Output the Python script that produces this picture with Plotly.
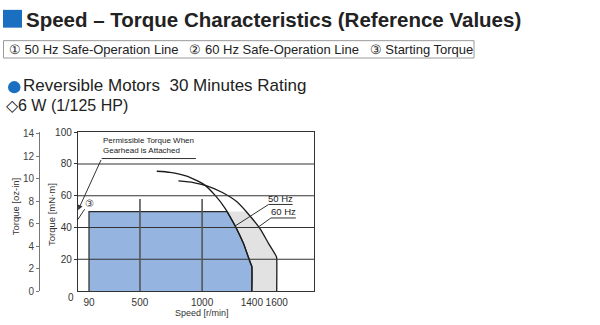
import numpy as np
import plotly.graph_objects as go

# ---------------- data ----------------
# 50 Hz safe-operation line (speed r/min, torque mN·m)
rpm_50 = [635, 742, 876, 1011, 1105, 1185, 1266, 1333, 1387, 1400, 1400]
trq_50 = [75.4, 74.7, 72.3, 67.3, 60.2, 52.1, 41.0, 29.9, 17.8, 15.5, 0]
# 60 Hz safe-operation line
rpm_60 = [809, 930, 1038, 1159, 1280, 1387, 1468, 1535, 1597, 1600, 1600]
trq_60 = [69.3, 68.3, 66.2, 62.2, 56.2, 47.1, 39.0, 29.9, 21.8, 20.8, 0]
# permissible torque with gearhead
gear_min_rpm = 90
gear_torque = 50
# starting torque
start_torque = 45
# axes
x_ticks = [90, 500, 1000, 1400, 1600]
y_ticks = [20, 40, 60, 80, 100]
oz_ticks = [0, 2, 4, 6, 8, 10, 12, 14]
x_grid = [500, 1000]
y_grid = [20, 40, 60, 80]
MNM_PER_OZIN = 7.0616

W, H = 600, 325
def px(x): return x / W
def py(y): return 1 - y / H

FONT = "Liberation Sans, Arial, sans-serif"
BLUE = "#1a6fc0"

fig = go.Figure()

def cut_at(rpms, trqs, level):
    r = np.array(rpms, float); t = np.array(trqs, float)
    rr, tt = r[:-1], t[:-1]
    x_cross = float(np.interp(level, tt[::-1], rr[::-1]))
    return [(x_cross, level)] + [(a, b) for a, b in zip(r, t) if b < level]

pa = cut_at(rpm_50, trq_50, gear_torque)
pb = cut_at(rpm_60, trq_60, gear_torque)

# gray region between 50 Hz and 60 Hz lines
gx = [p[0] for p in pb] + [p[0] for p in pa[::-1]]
gy = [p[1] for p in pb] + [p[1] for p in pa[::-1]]
fig.add_trace(go.Scatter(x=gx, y=gy, fill="toself", fillcolor="#e2e2e2",
                         line=dict(width=0), mode="lines", hoverinfo="skip",
                         showlegend=False))
# blue region
bx = [gear_min_rpm, gear_min_rpm] + [p[0] for p in pa]
by = [0, gear_torque] + [p[1] for p in pa]
fig.add_trace(go.Scatter(x=bx, y=by, fill="toself", fillcolor="#96b4e0",
                         line=dict(width=1.2, color="#2a2a2a"), mode="lines",
                         hoverinfo="skip", showlegend=False))
# curves
for xs, ys in ((rpm_50, trq_50), (rpm_60, trq_60)):
    fig.add_trace(go.Scatter(x=xs, y=ys, mode="lines",
                             line=dict(color="#1a1a1a", width=1.3, shape="spline", smoothing=0.6),
                             hoverinfo="skip", showlegend=False))

# invisible trace for oz-in axis
fig.add_trace(go.Scatter(x=[0], y=[0], yaxis="y2", mode="markers",
                         marker=dict(opacity=0), showlegend=False, hoverinfo="skip"))

shapes = []
for g in y_grid:
    shapes.append(dict(type="line", xref="paper", x0=77.8 / W, x1=314 / W, yref="y",
                       y0=g, y1=g, line=dict(color="#333", width=1.1), layer="above"))
for g in x_grid:
    shapes.append(dict(type="line", xref="x", x0=g, x1=g, yref="y", y0=0, y1=58,
                       line=dict(color="#555", width=1.6), layer="above"))
# header
shapes.append(dict(type="rect", xref="paper", yref="paper", x0=px(3), x1=px(22),
                   y0=py(22.5), y1=py(4), fillcolor=BLUE, line=dict(width=0)))
shapes.append(dict(type="rect", xref="paper", yref="paper", x0=px(3.5), x1=px(474),
                   y0=py(54), y1=py(36), line=dict(color="#9a9a9a", width=1)))
shapes.append(dict(type="circle", xref="paper", yref="paper", x0=px(8), x1=px(20.5),
                   y0=py(90.5), y1=py(78), fillcolor=BLUE, line=dict(width=0)))
# underlines / leaders of chart labels
shapes.append(dict(type="line", xref="x", yref="y", x0=192, x1=950, y0=83.4, y1=83.4,
                   line=dict(color="#333", width=1)))
shapes.append(dict(type="path", xref="x", yref="y",
                   path="M 1728 54.5 L 1535 54.5 L 1266 41", line=dict(color="#333", width=1)))
shapes.append(dict(type="path", xref="x", yref="y",
                   path="M 1754 46 L 1553 46 L 1454 40.4", line=dict(color="#333", width=1)))
shapes.append(dict(type="line", xref="x", yref="y", x0=0, x1=55, y0=start_torque, y1=51.5,
                   line=dict(color="#333", width=1)))

def txt(x, y, text, size, color="#222", xanchor="center", yanchor="middle", **kw):
    d = dict(x=x, y=y, text=text, showarrow=False, xanchor=xanchor, yanchor=yanchor,
             font=dict(family=FONT, size=size, color=color))
    d.setdefault("xref", "paper"); d.setdefault("yref", "paper")
    d.update(kw)
    return d

ann = []
ann.append(txt(px(24), py(14.5), "<b>Speed – Torque Characteristics (Reference Values)</b>", 20.5,
               xanchor="left"))
ann.append(txt(px(7), py(45), "① 50 Hz Safe-Operation Line   ② 60 Hz Safe-Operation Line   ③ Starting Torque",
               13, xanchor="left"))
ann.append(txt(px(21), py(82.5), "Reversible Motors  30 Minutes Rating", 17, xanchor="left"))
ann.append(txt(px(4), py(103.5), "◇6 W (1/125 HP)", 16, xanchor="left"))
# axis titles
ann.append(txt(px(15), py(208), "Torque [oz-in]", 9.5, "#333", textangle=-90))
ann.append(txt(px(52), py(217), "Torque [mN·m]", 9.5, "#333", textangle=-90))
ann.append(txt(997, py(318.5), "Speed [r/min]", 9, "#333", xref="x"))
ann.append(txt(px(70.5), py(303), "0", 10, "#333"))
# chart labels
ann.append(txt(190, 91.3, "Permissible Torque When<br>Gearhead is Attached", 8,
               xref="x", yref="y", xanchor="left", align="left"))
ann.append(dict(xref="x", yref="y", x=3, y=51, ax=192, ay=83.4, axref="x", ayref="y",
                text="", showarrow=True, arrowhead=2, arrowsize=1, arrowwidth=1,
                arrowcolor="#333", standoff=0, startstandoff=0))
ann.append(txt(92, 54.8, "③", 10, "#333", xref="x", yref="y"))
ann.append(txt(1632, 58.3, "50 Hz", 9.5, xref="x", yref="y"))
ann.append(txt(1653, 49.8, "60 Hz", 9.5, xref="x", yref="y"))

fig.update_layout(
    width=W, height=H, margin=dict(l=0, r=0, t=0, b=0),
    paper_bgcolor="white", plot_bgcolor="white", showlegend=False,
    shapes=shapes, annotations=ann,
    xaxis=dict(domain=[77.8 / W, 314 / W], range=[0, 1900], tickvals=x_ticks,
               showgrid=False, zeroline=False, showline=True, mirror=True,
               linecolor="#333", linewidth=1, ticks="outside", ticklen=2,
               tickcolor="rgba(0,0,0,0)", tickangle=0,
               tickfont=dict(family=FONT, size=10, color="#333"), fixedrange=True),
    yaxis=dict(domain=[29 / H, 194 / H], range=[0, 100], tickvals=y_ticks,
               showgrid=False, zeroline=False, showline=True, mirror=True,
               linecolor="#333", linewidth=1, ticks="outside", ticklen=3, tickcolor="#333",
               tickfont=dict(family=FONT, size=10, color="#333"), fixedrange=True),
    yaxis2=dict(overlaying="y", anchor="free", position=39 / W, side="left",
                range=[0, 100 / MNM_PER_OZIN], tickvals=oz_ticks,
                showgrid=False, zeroline=False, showline=True, linecolor="#777",
                ticks="outside", ticklen=3, tickcolor="#777",
                tickfont=dict(family=FONT, size=10, color="#444"), fixedrange=True),
)

fig.write_html("out.html")
